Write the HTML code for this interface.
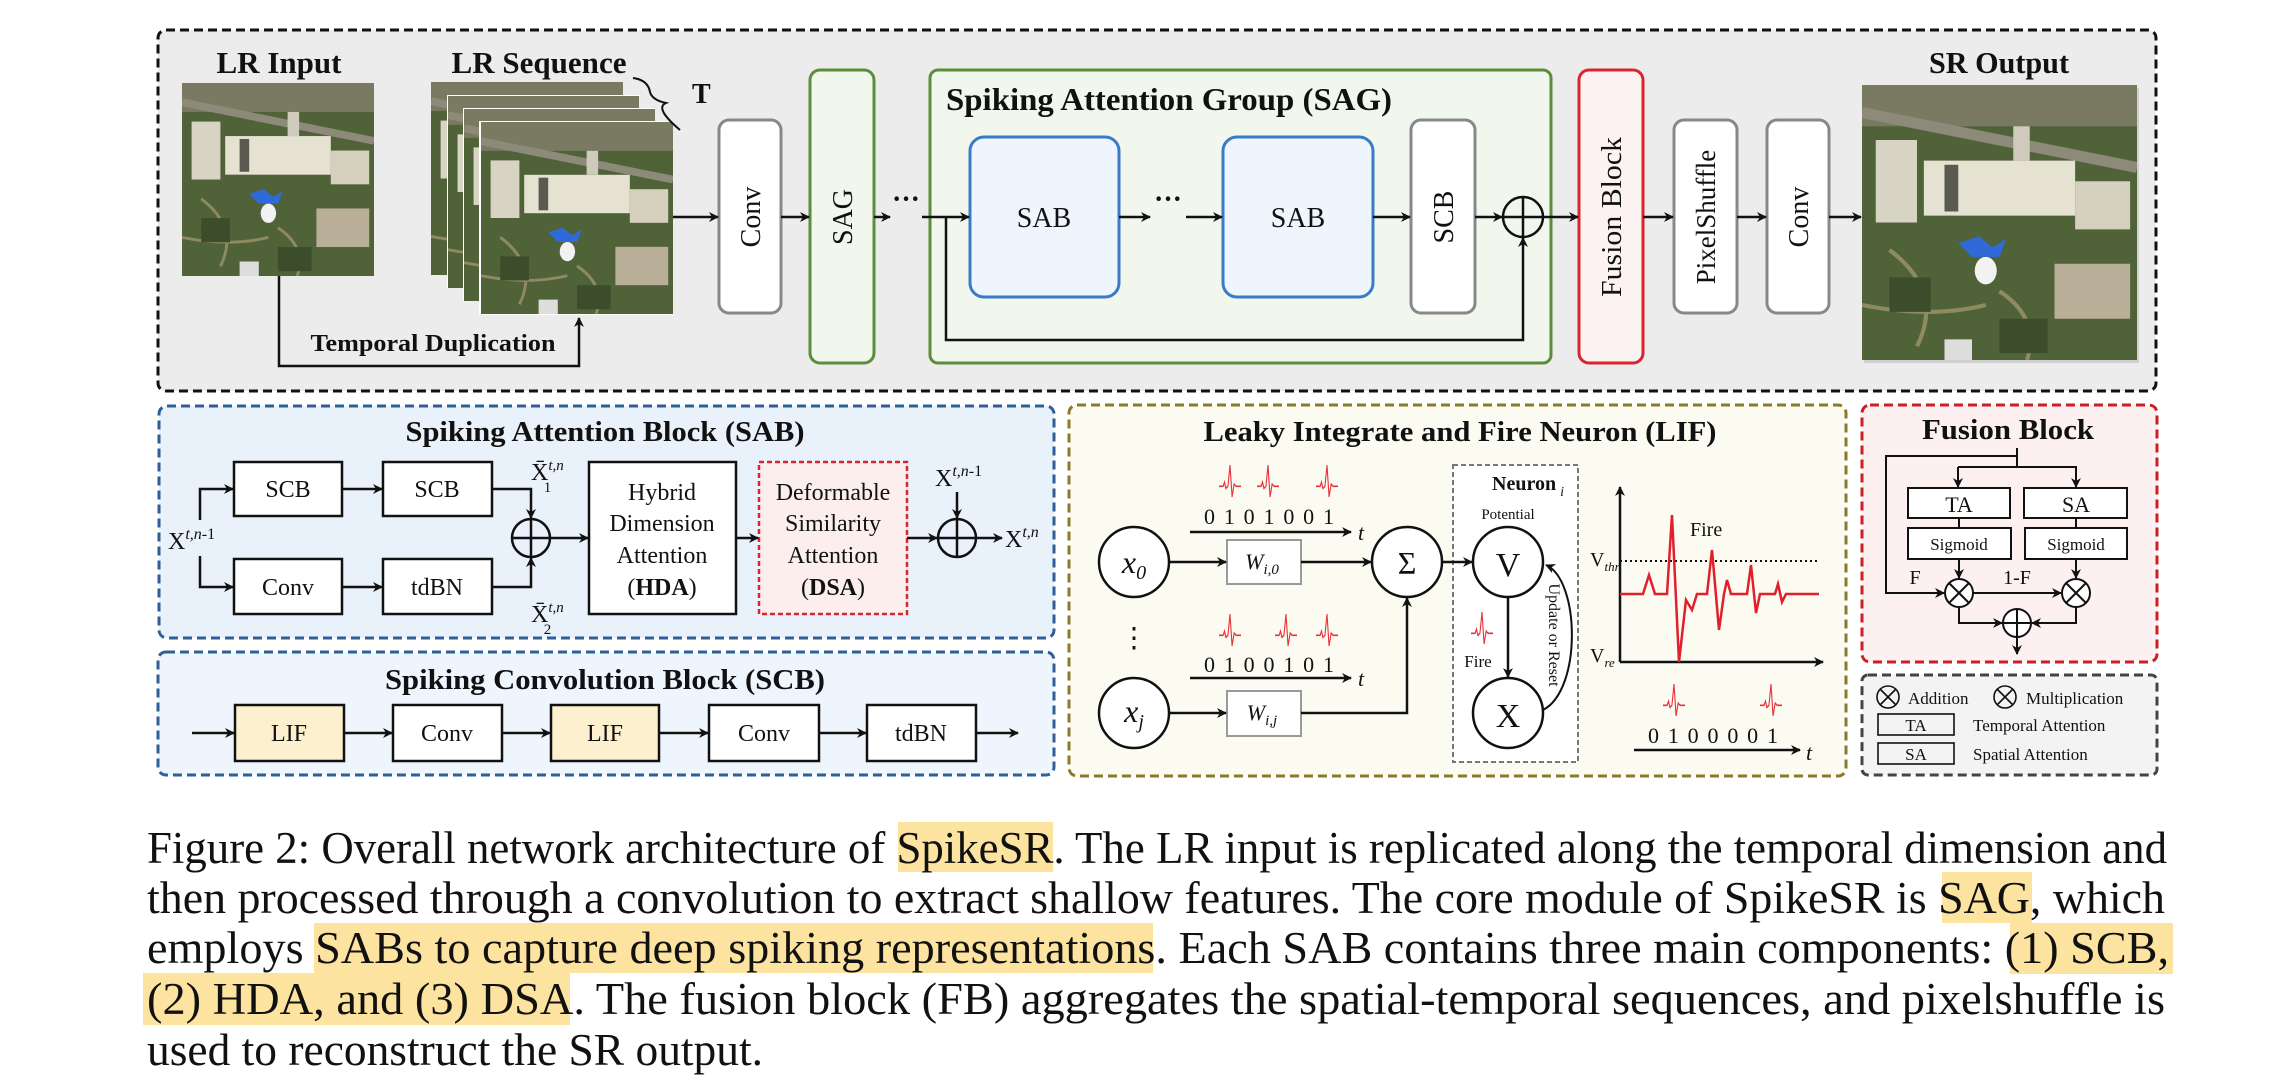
<!DOCTYPE html>
<html><head><meta charset="utf-8">
<style>
html,body{margin:0;padding:0;background:#fff;}
svg{display:block;}
text{font-family:"Liberation Serif",serif;fill:#111;}
.b{font-weight:bold;}
</style></head>
<body>
<svg width="2289" height="1083" viewBox="0 0 2289 1083" xmlns="http://www.w3.org/2000/svg">
<defs>
<marker id="ar" markerWidth="10" markerHeight="10" refX="9" refY="5" orient="auto" markerUnits="userSpaceOnUse">
<path d="M0,0 L10,5 L0,10 L3,5 Z" fill="#111"/></marker>
<symbol id="aer" viewBox="0 0 200 200" preserveAspectRatio="none">
<rect width="200" height="200" fill="#4f6238"/>
<rect x="0" y="0" width="200" height="30" fill="#7a7a62"/>
<path d="M0,20 L200,60" stroke="#8d8a7a" stroke-width="8"/>
<rect x="10" y="40" width="30" height="60" fill="#d8d4c4"/>
<rect x="45" y="55" width="110" height="40" fill="#e6e2d2"/>
<rect x="155" y="70" width="40" height="35" fill="#d5cfbe"/>
<rect x="60" y="58" width="10" height="34" fill="#5a5a50"/>
<rect x="110" y="30" width="12" height="25" fill="#cfcabb"/>
<path d="M70,115 L85,110 L95,118 L105,112 L100,125 L80,125 Z" fill="#2f6ad8"/>
<ellipse cx="90" cy="135" rx="8" ry="10" fill="#f2f2f2"/>
<rect x="140" y="130" width="55" height="40" fill="#b9ae97"/>
<path d="M20,120 Q60,150 40,190 M100,150 Q130,170 120,200 M0,160 Q50,170 90,160" stroke="#8f8a60" stroke-width="3" fill="none"/>
<rect x="20" y="140" width="30" height="25" fill="#3b4d2a"/>
<rect x="100" y="170" width="35" height="25" fill="#3b4d2a"/>
<rect x="60" y="185" width="20" height="15" fill="#ddd"/>
</symbol>
<symbol id="spk" viewBox="0 0 32 34" preserveAspectRatio="none">
<path d="M0,22 L6,22 L8,18 L10,24 L13,22 L16,2 L19,32 L22,20 L25,22 L32,22" stroke="#e8333b" stroke-width="1.6" fill="none"/>
</symbol>
</defs>

<!-- ===== TOP PANEL ===== -->
<rect x="158" y="30" width="1998" height="361" rx="8" fill="#ececec" stroke="#111" stroke-width="3" stroke-dasharray="9,5"/>
<text x="279" y="73" class="b" font-size="31" text-anchor="middle" textLength="125" lengthAdjust="spacingAndGlyphs">LR Input</text>
<use href="#aer" x="182" y="83" width="192" height="193"/>
<text x="539" y="73" class="b" font-size="31" text-anchor="middle" textLength="175" lengthAdjust="spacingAndGlyphs">LR Sequence</text>
<g>
<use href="#aer" x="431" y="82" width="192" height="193"/>
<rect x="447" y="95" width="192" height="193" fill="#fff"/><use href="#aer" x="448" y="96" width="191" height="192"/>
<rect x="463" y="108" width="192" height="193" fill="#fff"/><use href="#aer" x="464" y="109" width="191" height="192"/>
<rect x="479" y="121" width="194" height="194" fill="#fff"/><use href="#aer" x="481" y="122" width="192" height="192"/>
</g>
<path d="M633,78 Q648,80 650,92 Q652,100 666,103 Q654,108 680,130" stroke="#111" stroke-width="2" fill="none"/>
<text x="692" y="103" class="b" font-size="28">T</text>
<path d="M279,276 L279,366 L579,366 L579,318" stroke="#111" stroke-width="2.5" fill="none" marker-end="url(#ar)"/>
<text x="433" y="351" class="b" font-size="24" text-anchor="middle" textLength="245" lengthAdjust="spacingAndGlyphs">Temporal Duplication</text>

<rect x="719" y="120" width="62" height="193" rx="10" fill="#fff" stroke="#888" stroke-width="3"/>
<text transform="translate(760,217) rotate(-90)" font-size="28" text-anchor="middle">Conv</text>
<rect x="810" y="70" width="64" height="293" rx="10" fill="#f1f7ec" stroke="#5b8d3b" stroke-width="3"/>
<text transform="translate(852,217) rotate(-90)" font-size="28" text-anchor="middle">SAG</text>
<text x="906" y="208" class="b" font-size="28" text-anchor="middle">···</text>

<rect x="930" y="70" width="621" height="293" rx="8" fill="#f1f7ec" stroke="#5b8d3b" stroke-width="3"/>
<text x="1169" y="110" class="b" font-size="32" text-anchor="middle" textLength="446" lengthAdjust="spacingAndGlyphs">Spiking Attention Group (SAG)</text>
<rect x="970" y="137" width="149" height="160" rx="14" fill="#eef5fc" stroke="#3a7bc8" stroke-width="3"/>
<text x="1044" y="227" font-size="28" text-anchor="middle">SAB</text>
<text x="1168" y="208" class="b" font-size="28" text-anchor="middle">···</text>
<rect x="1223" y="137" width="150" height="160" rx="14" fill="#eef5fc" stroke="#3a7bc8" stroke-width="3"/>
<text x="1298" y="227" font-size="28" text-anchor="middle">SAB</text>
<rect x="1411" y="120" width="64" height="193" rx="10" fill="#fff" stroke="#888" stroke-width="3"/>
<text transform="translate(1453,217) rotate(-90)" font-size="28" text-anchor="middle">SCB</text>
<circle cx="1523" cy="217" r="20" fill="none" stroke="#111" stroke-width="2.5"/>
<path d="M1503,217 H1543 M1523,197 V237" stroke="#111" stroke-width="2.5"/>

<rect x="1579" y="70" width="64" height="293" rx="10" fill="#fdf2f2" stroke="#d9262e" stroke-width="3"/>
<text transform="translate(1621,217) rotate(-90)" font-size="28" text-anchor="middle" textLength="160" lengthAdjust="spacingAndGlyphs">Fusion Block</text>
<rect x="1674" y="120" width="63" height="193" rx="10" fill="#fff" stroke="#888" stroke-width="3"/>
<text transform="translate(1715,217) rotate(-90)" font-size="27" text-anchor="middle">PixelShuffle</text>
<rect x="1767" y="120" width="62" height="193" rx="10" fill="#fff" stroke="#888" stroke-width="3"/>
<text transform="translate(1808,217) rotate(-90)" font-size="28" text-anchor="middle">Conv</text>
<text x="1999" y="73" class="b" font-size="31" text-anchor="middle" textLength="140" lengthAdjust="spacingAndGlyphs">SR Output</text>
<rect x="1864" y="88" width="275" height="275" fill="#cfcfcf"/>
<use href="#aer" x="1862" y="85" width="275" height="275"/>

<g stroke="#111" stroke-width="2.5" fill="none" marker-end="url(#ar)">
<path d="M673,217 H718"/><path d="M781,217 H809"/>
<path d="M874,217 H890"/><path d="M922,217 H969"/>
<path d="M1119,217 H1150"/><path d="M1186,217 H1222"/>
<path d="M1373,217 H1410"/><path d="M1475,217 H1502"/>
<path d="M1543,217 H1578"/><path d="M1643,217 H1673"/>
<path d="M1737,217 H1766"/><path d="M1829,217 H1861"/>
<path d="M946,217 V340 H1523 V238"/>
</g>

<!-- ===== SAB PANEL ===== -->
<rect x="159" y="406" width="895" height="232" rx="8" fill="#e9f1fa" stroke="#2e5f98" stroke-width="3" stroke-dasharray="9,5"/>
<text x="605" y="441" class="b" font-size="29" text-anchor="middle" textLength="399" lengthAdjust="spacingAndGlyphs">Spiking Attention Block (SAB)</text>
<g fill="#fff" stroke="#111" stroke-width="2.5">
<rect x="234" y="462" width="108" height="54"/><rect x="383" y="462" width="109" height="54"/>
<rect x="234" y="559" width="108" height="55"/><rect x="383" y="559" width="109" height="55"/>
<rect x="589" y="462" width="147" height="152"/>
</g>
<rect x="759" y="462" width="148" height="152" fill="#fdeeee" stroke="#d9262e" stroke-width="2.5" stroke-dasharray="5,3"/>
<g font-size="24" text-anchor="middle">
<text x="288" y="497">SCB</text><text x="437" y="497">SCB</text>
<text x="288" y="595">Conv</text><text x="437" y="595">tdBN</text>
<text x="662" y="500">Hybrid</text><text x="662" y="531">Dimension</text><text x="662" y="563">Attention</text><text x="662" y="595">(<tspan class="b">HDA</tspan>)</text>
<text x="833" y="500">Deformable</text><text x="833" y="531">Similarity</text><text x="833" y="563">Attention</text><text x="833" y="595">(<tspan class="b">DSA</tspan>)</text>
</g>
<text x="168" y="549" font-size="24">X<tspan font-size="16" dy="-10" font-style="italic">t,n</tspan><tspan font-size="16">-1</tspan></text>
<text x="531" y="480" font-size="24">X̄<tspan font-size="15" dy="-10" font-style="italic">t,n</tspan><tspan font-size="15" dx="-20" dy="22">1</tspan></text>
<text x="531" y="622" font-size="24">X̄<tspan font-size="15" dy="-10" font-style="italic">t,n</tspan><tspan font-size="15" dx="-20" dy="22">2</tspan></text>
<circle cx="531" cy="538" r="19" fill="none" stroke="#111" stroke-width="2.5"/>
<path d="M512,538 H550 M531,519 V557" stroke="#111" stroke-width="2.5"/>
<circle cx="957" cy="538" r="19" fill="none" stroke="#111" stroke-width="2.5"/>
<path d="M938,538 H976 M957,519 V557" stroke="#111" stroke-width="2.5"/>
<text x="935" y="486" font-size="24">X<tspan font-size="16" dy="-10" font-style="italic">t,n</tspan><tspan font-size="16">-1</tspan></text>
<text x="1005" y="547" font-size="24">X<tspan font-size="16" dy="-10" font-style="italic">t,n</tspan></text>
<g stroke="#111" stroke-width="2.5" fill="none" marker-end="url(#ar)">
<path d="M200,520 V489 H233"/><path d="M200,556 V587 H233"/>
<path d="M342,489 H382"/><path d="M342,587 H382"/>
<path d="M492,489 H531 V518"/><path d="M492,587 H531 V558"/>
<path d="M550,538 H588"/><path d="M736,538 H758"/>
<path d="M907,538 H937"/><path d="M957,492 V518"/><path d="M976,538 H1002"/>
</g>

<!-- ===== SCB PANEL ===== -->
<rect x="158" y="652" width="896" height="123" rx="8" fill="#eef5fc" stroke="#2e5f98" stroke-width="3" stroke-dasharray="9,5"/>
<text x="605" y="689" class="b" font-size="29" text-anchor="middle" textLength="440" lengthAdjust="spacingAndGlyphs">Spiking Convolution Block (SCB)</text>
<g stroke="#111" stroke-width="2.5">
<rect x="235" y="705" width="109" height="56" fill="#fdf0cf"/>
<rect x="393" y="705" width="109" height="56" fill="#fff"/>
<rect x="551" y="705" width="108" height="56" fill="#fdf0cf"/>
<rect x="709" y="705" width="110" height="56" fill="#fff"/>
<rect x="867" y="705" width="109" height="56" fill="#fff"/>
</g>
<g font-size="24" text-anchor="middle">
<text x="289" y="741">LIF</text><text x="447" y="741">Conv</text><text x="605" y="741">LIF</text><text x="764" y="741">Conv</text><text x="921" y="741">tdBN</text>
</g>
<g stroke="#111" stroke-width="2.5" fill="none" marker-end="url(#ar)">
<path d="M192,733 H234"/><path d="M344,733 H392"/><path d="M502,733 H550"/><path d="M659,733 H708"/><path d="M819,733 H866"/><path d="M976,733 H1018"/>
</g>

<!-- ===== LIF PANEL ===== -->
<rect x="1069" y="405" width="777" height="371" rx="8" fill="#fcfbf1" stroke="#8b7a2b" stroke-width="3" stroke-dasharray="9,5"/>
<text x="1460" y="441" class="b" font-size="29" text-anchor="middle" textLength="513" lengthAdjust="spacingAndGlyphs">Leaky Integrate and Fire Neuron (LIF)</text>
<g fill="#fff" stroke="#111" stroke-width="2.5">
<circle cx="1134" cy="562" r="35"/><circle cx="1134" cy="713" r="35"/>
<circle cx="1407" cy="562" r="35"/>
</g>
<rect x="1453" y="465" width="125" height="297" fill="#fff" stroke="#777" stroke-width="2" stroke-dasharray="5,3"/>
<g fill="#fff" stroke="#111" stroke-width="2.5"><circle cx="1508" cy="562" r="35"/><circle cx="1508" cy="713" r="35"/></g>
<text x="1134" y="573" font-size="32" font-style="italic" text-anchor="middle">x<tspan font-size="20" dy="6">0</tspan></text>
<text x="1134" y="722" font-size="32" font-style="italic" text-anchor="middle">x<tspan font-size="20" dy="6">j</tspan></text>
<text x="1134" y="647" font-size="28" text-anchor="middle">⋮</text>
<text x="1407" y="574" font-size="32" text-anchor="middle">Σ</text>
<text x="1508" y="576" font-size="34" text-anchor="middle">V</text>
<text x="1508" y="727" font-size="34" text-anchor="middle">X</text>
<rect x="1227" y="540" width="74" height="44" fill="#fff" stroke="#999" stroke-width="2"/>
<rect x="1227" y="691" width="74" height="45" fill="#fff" stroke="#999" stroke-width="2"/>
<text x="1262" y="569" font-size="22" font-style="italic" text-anchor="middle">W<tspan font-size="15" dy="5">i,0</tspan></text>
<text x="1262" y="720" font-size="22" font-style="italic" text-anchor="middle">W<tspan font-size="15" dy="5">i,j</tspan></text>
<text x="1492" y="490" class="b" font-size="20">Neuron<tspan font-size="14" font-style="italic" font-weight="normal" dx="4" dy="6">i</tspan></text>
<text x="1508" y="519" font-size="15" text-anchor="middle">Potential</text>
<text x="1478" y="667" font-size="17" text-anchor="middle">Fire</text>
<use href="#spk" x="1471" y="610" width="22" height="36"/>
<text transform="translate(1549,635) rotate(90)" font-size="16" text-anchor="middle">Update or Reset</text>
<path d="M1543,710 C1582,690 1580,580 1546,565" stroke="#111" stroke-width="2" fill="none" marker-end="url(#ar)"/>
<g font-size="22" text-anchor="middle">
<text x="1269" y="524" textLength="130">0101001</text>
<text x="1269" y="672" textLength="130">0100101</text>
<text x="1713" y="743" textLength="130">0100001</text>
</g>
<g font-size="22" font-style="italic"><text x="1358" y="540">t</text><text x="1358" y="686">t</text><text x="1806" y="760">t</text></g>
<use href="#spk" x="1219" y="463" width="22" height="36"/><use href="#spk" x="1257" y="463" width="22" height="36"/><use href="#spk" x="1316" y="463" width="22" height="36"/>
<use href="#spk" x="1219" y="612" width="22" height="36"/><use href="#spk" x="1275" y="612" width="22" height="36"/><use href="#spk" x="1316" y="612" width="22" height="36"/>
<use href="#spk" x="1663" y="682" width="22" height="36"/><use href="#spk" x="1760" y="682" width="22" height="36"/>
<g stroke="#111" stroke-width="2.5" fill="none" marker-end="url(#ar)">
<path d="M1190,532 H1351"/><path d="M1190,678 H1351"/><path d="M1634,750 H1800"/>
<path d="M1169,562 H1226"/><path d="M1301,562 H1371"/>
<path d="M1169,713 H1226"/><path d="M1301,713 H1407 V598"/>
<path d="M1442,562 H1472"/><path d="M1508,597 V677"/>
<path d="M1620,662 V487"/><path d="M1620,662 H1823"/>
</g>
<path d="M1620,561 H1819" stroke="#111" stroke-width="2" stroke-dasharray="2,3"/>
<polyline points="1620,594 1643,594 1649,575 1655,594 1667,594 1672,515 1679,662 1686,600 1692,610 1697,594 1707,594 1712,550 1719,630 1724,594 1727,580 1731,594 1747,594 1751,565 1756,613 1760,594 1775,594 1778,584 1782,602 1786,594 1819,594" stroke="#e0202c" stroke-width="2.5" fill="none"/>
<text x="1690" y="536" font-size="20">Fire</text>
<text x="1590" y="566" font-size="20">V<tspan font-size="13" font-style="italic" dy="5">thr</tspan></text>
<text x="1590" y="662" font-size="20">V<tspan font-size="13" font-style="italic" dy="5">re</tspan></text>

<!-- ===== FUSION PANEL ===== -->
<rect x="1862" y="405" width="295" height="257" rx="8" fill="#fdf0f0" stroke="#d01c24" stroke-width="3" stroke-dasharray="9,5"/>
<text x="2008" y="439" class="b" font-size="28" text-anchor="middle" textLength="172" lengthAdjust="spacingAndGlyphs">Fusion Block</text>
<g fill="#fff" stroke="#111" stroke-width="2">
<rect x="1908" y="488" width="102" height="30"/><rect x="2024" y="488" width="103" height="30"/>
<rect x="1908" y="528" width="103" height="31"/><rect x="2025" y="528" width="102" height="31"/>
<circle cx="1959" cy="593" r="14"/><circle cx="2076" cy="593" r="14"/><circle cx="2017" cy="623" r="14"/>
</g>
<path d="M1949,583 L1969,603 M1969,583 L1949,603 M2066,583 L2086,603 M2086,583 L2066,603 M2003,623 H2031 M2017,609 V637" stroke="#111" stroke-width="2"/>
<g font-size="22" text-anchor="middle"><text x="1959" y="512">TA</text><text x="2076" y="512">SA</text></g>
<g font-size="17" text-anchor="middle"><text x="1959" y="550">Sigmoid</text><text x="2076" y="550">Sigmoid</text></g>
<text x="1915" y="584" font-size="20" text-anchor="middle">F</text>
<text x="2017" y="584" font-size="20" text-anchor="middle">1-F</text>
<g stroke="#111" stroke-width="2" fill="none">
<path d="M2017,448 V467"/><path d="M1959,518 V528"/><path d="M2076,518 V528"/>
</g>
<g stroke="#111" stroke-width="2" fill="none" marker-end="url(#ar)">
<path d="M2017,456 H1886 V593 H1944"/>
<path d="M1958,467 H2076 V487"/><path d="M1958,467 V487"/>
<path d="M1959,559 V578"/><path d="M2076,559 V578"/>
<path d="M1973,593 H2061"/>
<path d="M1959,607 V623 H2002"/><path d="M2076,607 V623 H2032"/>
<path d="M2017,637 V654"/>
</g>

<!-- legend -->
<rect x="1862" y="675" width="295" height="100" rx="6" fill="#f3f3f3" stroke="#444" stroke-width="3" stroke-dasharray="9,5"/>
<g fill="none" stroke="#111" stroke-width="1.6">
<circle cx="1888" cy="697" r="11"/><circle cx="2005" cy="697" r="11"/>
<path d="M1880,689 L1896,705 M1896,689 L1880,705 M1997,689 L2013,705 M2013,689 L1997,705"/>
<rect x="1878" y="714" width="76" height="21"/><rect x="1878" y="743" width="76" height="21"/>
</g>
<g font-size="17">
<text x="1908" y="704">Addition</text><text x="2026" y="704">Multiplication</text>
<text x="1916" y="731" text-anchor="middle">TA</text><text x="1916" y="760" text-anchor="middle">SA</text>
<text x="1973" y="731">Temporal Attention</text><text x="1973" y="760">Spatial Attention</text>
</g>

<!-- ===== CAPTION ===== -->
<g fill="#fde3a0">
<rect x="898" y="822" width="155" height="50"/>
<rect x="1942" y="872" width="90" height="51"/>
<rect x="314" y="923" width="839" height="50"/>
<rect x="2010" y="923" width="163" height="51"/>
<rect x="143" y="973" width="427" height="52"/>
</g>
<g font-size="45">
<text x="147" y="863" textLength="2020" lengthAdjust="spacingAndGlyphs">Figure 2: Overall network architecture of SpikeSR. The LR input is replicated along the temporal dimension and</text>
<text x="147" y="913" textLength="2018" lengthAdjust="spacingAndGlyphs">then processed through a convolution to extract shallow features. The core module of SpikeSR is SAG, which</text>
<text x="147" y="963" textLength="2022" lengthAdjust="spacingAndGlyphs">employs SABs to capture deep spiking representations. Each SAB contains three main components: (1) SCB,</text>
<text x="147" y="1014" textLength="2018" lengthAdjust="spacingAndGlyphs">(2) HDA, and (3) DSA. The fusion block (FB) aggregates the spatial-temporal sequences, and pixelshuffle is</text>
<text x="147" y="1065" textLength="616" lengthAdjust="spacingAndGlyphs">used to reconstruct the SR output.</text>
</g>
</svg>
</body></html>
